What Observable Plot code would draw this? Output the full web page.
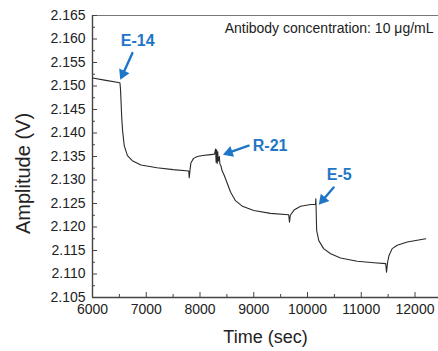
<!DOCTYPE html>
<html>
<head>
<meta charset="utf-8">
<script src="https://cdn.jsdelivr.net/npm/d3@7"></script>
<script src="https://cdn.jsdelivr.net/npm/@observablehq/plot@0.6"></script>
<style>
  html, body { margin: 0; padding: 0; background: #fff; }
  #chart { width: 438px; height: 351px; }
</style>
</head>
<body>
<div id="chart"></div>
<script>
// Time (sec)
const times = [6000, 6250, 6510, 6520, 6530, 6545, 6560, 6590, 6650, 6740, 6900, 7200, 7500, 7790, 7800, 7815, 7830, 7880, 7950, 8050, 8200, 8270,
  8290, 8300, 8310, 8320, 8330, 8340, 8360, 8370, 8390,
  8410, 8450, 8510, 8570, 8660, 8790, 9000, 9310, 9650, 9665, 9680, 9750, 9870, 10060, 10150, 10155, 10160, 10170, 10210,
  10300, 10430, 10615, 10925, 11235, 11455, 11470, 11490, 11515, 11575, 11670, 11855, 12200];
// Amplitude (V)
const amplitudes = [2.1517, 2.1512, 2.1507, 2.1495, 2.1470, 2.1430, 2.1405, 2.1373, 2.1352, 2.1341, 2.1332, 2.1326, 2.1322, 2.1319, 2.1305, 2.1322, 2.1336, 2.1346, 2.1350, 2.1352, 2.1354, 2.1355,
  2.1366, 2.1338, 2.1364, 2.1335, 2.1360, 2.1340, 2.1350, 2.1334, 2.1330,
  2.1320, 2.1310, 2.1292, 2.1274, 2.1256, 2.1244, 2.1235, 2.1229, 2.1226, 2.1210, 2.1225, 2.1236, 2.1244, 2.1248, 2.1248, 2.1260, 2.1240, 2.1193, 2.1171,
  2.1154, 2.1143, 2.1134, 2.1127, 2.1124, 2.1122, 2.1104, 2.1125, 2.1139, 2.1154, 2.1161, 2.1168, 2.1175];

const xTicks = [6000, 7000, 8000, 9000, 10000, 11000, 12000];
const xMinorTicks = [6500, 7500, 8500, 9500, 10500, 11500];
const yTicks = [2.105, 2.110, 2.115, 2.120, 2.125, 2.130, 2.135, 2.140, 2.145, 2.150, 2.155, 2.160, 2.165];
const yMinorTicks = [2.1075, 2.1125, 2.1175, 2.1225, 2.1275, 2.1325, 2.1375, 2.1425, 2.1475, 2.1525, 2.1575, 2.1625];

// Annotations
const labelNames = ["E-14", "R-21", "E-5"];
const labelX = [6842, 9305, 10591];
const labelY = [2.1597, 2.1373, 2.1310];
const arrowX1 = [6743, 8905, 10485];
const arrowY1 = [2.1570, 2.1373, 2.1284];
const arrowX2 = [6539, 8478, 10244];
const arrowY2 = [2.1519, 2.1356, 2.1252];

const noteText = ["Antibody concentration: 10 μg/mL"];
const noteX = [12344];
const noteY = [2.1622];

const series = times.map((t, i) => ({t, v: amplitudes[i]}));
const labels = labelNames.map((n, i) => ({n, x: labelX[i], y: labelY[i], x1: arrowX1[i], y1: arrowY1[i], x2: arrowX2[i], y2: arrowY2[i]}));

const W = 438, H = 351, mL = 92, mT = 15, mB = 54, mR = 0;
const frameW = W - mL - mR, frameH = H - mT - mB;
const blue = "#1f76c6";
const axisColor = "#444";
const font = "Liberation Sans, Arial, sans-serif";
const xDomain = [6000, 12437], yDomain = [2.105, 2.165];

const base = {
  width: W, height: H,
  marginLeft: mL, marginTop: mT, marginBottom: mB, marginRight: mR,
  style: {fontFamily: font, background: "#fff", overflow: "visible"},
  x: {domain: xDomain},
  y: {domain: yDomain}
};

// first pass to obtain the scales for arrow-head orientation
const probe = Plot.plot({...base, marks: [Plot.dot(series, {x: "t", y: "v"})]});
const sx = probe.scale("x"), sy = probe.scale("y");
const headLen = 8;
const heads = labels.map(d => {
  const px1 = sx.apply(d.x1), py1 = sy.apply(d.y1), px2 = sx.apply(d.x2), py2 = sy.apply(d.y2);
  const dx = px2 - px1, dy = py2 - py1, L = Math.hypot(dx, dy);
  const ux = dx / L, uy = dy / L;
  const cx = px2 - ux * headLen * 0.45, cy = py2 - uy * headLen * 0.45;
  return {x: sx.invert(cx), y: sy.invert(cy), rot: Math.atan2(dy, dx) * 180 / Math.PI + 90};
});

const chart = Plot.plot({
  ...base,
  marks: [
    Plot.axisX(xTicks, {tickSize: 0, tickPadding: 7, fontSize: 14, fill: "#222", label: null, tickFormat: d => String(d)}),
    Plot.axisY(yTicks, {tickSize: 0, tickPadding: 7, fontSize: 14, fill: "#222", label: null, tickFormat: d3.format(".3f")}),
    // frame lines
    Plot.ruleY([yDomain[1]], {stroke: "#777", strokeWidth: 1.2}),
    Plot.ruleY([yDomain[0]], {stroke: axisColor, strokeWidth: 1.4}),
    Plot.ruleX([xDomain[0]], {stroke: axisColor, strokeWidth: 1.4}),
    // inward ticks
    Plot.ruleX(xTicks, {x: d => d, insetTop: frameH - 5, stroke: axisColor, strokeWidth: 1}),
    Plot.ruleX(xMinorTicks, {x: d => d, insetTop: frameH - 3, stroke: axisColor, strokeWidth: 1}),
    Plot.ruleY(yTicks, {y: d => d, insetRight: frameW - 5, stroke: axisColor, strokeWidth: 1}),
    Plot.ruleY(yMinorTicks, {y: d => d, insetRight: frameW - 3, stroke: axisColor, strokeWidth: 1}),
    // data
    Plot.line(series, {x: "t", y: "v", stroke: "#2a2a2a", strokeWidth: 1.1, curve: "linear"}),
    // annotations
    Plot.arrow(labels, {x1: "x1", y1: "y1", x2: "x2", y2: "y2", stroke: blue, strokeWidth: 2.4, headLength: 0, insetEnd: headLen * 0.6}),
    Plot.dot(heads, {x: "x", y: "y", rotate: "rot", symbol: "triangle", r: 4.2, fill: blue, stroke: "none"}),
    Plot.text(labels, {x: "x", y: "y", text: "n", fill: blue, fontSize: 16, fontWeight: "bold"}),
    Plot.text(noteText, {x: noteX, y: noteY, text: d => d, textAnchor: "end", fontSize: 14, fill: "#222"}),
    // axis titles
    Plot.text(["Time (sec)"], {frameAnchor: "bottom", dy: 40, lineAnchor: "middle", textAnchor: "middle", text: d => d, fontSize: 18, fill: "#222"}),
    Plot.text(["Amplitude (V)"], {frameAnchor: "left", dx: -69, dy: 17, rotate: -90, lineAnchor: "middle", textAnchor: "middle", text: d => d, fontSize: 20, fill: "#222"})
  ]
});
document.getElementById("chart").appendChild(chart);
</script>
</body>
</html>
